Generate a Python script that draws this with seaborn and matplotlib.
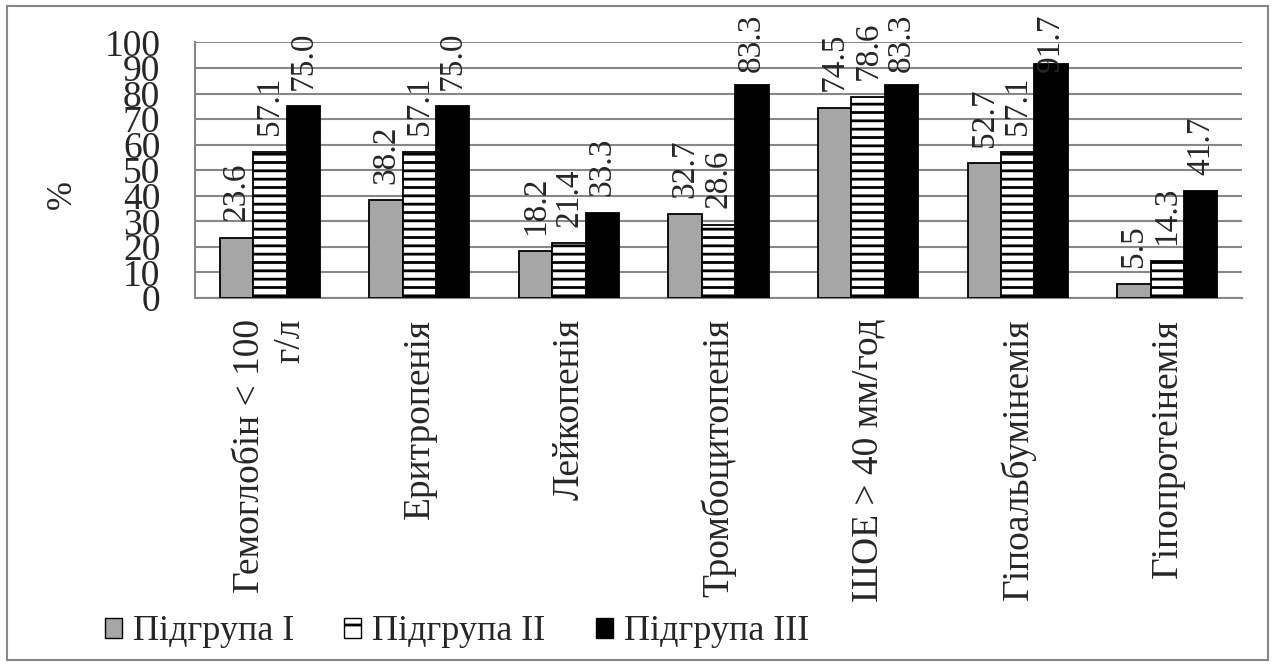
import numpy as np
import pandas as pd
import seaborn as sns
import matplotlib.pyplot as plt
from matplotlib.patches import Rectangle, Patch

categories = ['Гемоглобін < 100\nг/л', 'Еритропенія', 'Лейкопенія', 'Тромбоцитопенія',
              'ШОЕ > 40 мм/год', 'Гіпоальбумінемія', 'Гіпопротеінемія']
groups = ['Підгрупа I', 'Підгрупа II', 'Підгрупа III']
group1 = [23.6, 38.2, 18.2, 32.7, 74.5, 52.7, 5.5]
group2 = [57.1, 57.1, 21.4, 28.6, 78.6, 57.1, 14.3]
group3 = [75.0, 75.0, 33.3, 83.3, 83.3, 91.7, 41.7]
y_ticks = list(range(0, 101, 10))

data = pd.DataFrame({
    'category': categories * 3,
    'group': [g for g in groups for _ in categories],
    'value': group1 + group2 + group3,
})

sns.set_style('white')
plt.rcParams['font.family'] = ['Liberation Serif', 'DejaVu Serif']
plt.rcParams['hatch.linewidth'] = 2.0
grid_c = '#878787'

fig = plt.figure(figsize=(12.73, 6.66), dpi=100)
ax = fig.add_axes([0.1532, 0.5526, 0.8225, 0.3836])

sns.barplot(data=data, x='category', y='value', hue='group', hue_order=groups,
            palette=['#a6a6a6', 'white', 'black'], width=0.67,
            edgecolor='black', linewidth=1.3, legend=False, ax=ax, zorder=3)

for bar in ax.containers[1]:
    bar.set_hatch('--')

labels = []
for cont in ax.containers:
    labels += ax.bar_label(cont, fmt='%.1f', rotation=90, padding=12, fontsize=24)

ax.set_ylim(0, 100)
ax.set_xlim(-0.5, len(categories) - 0.5)
ax.set_yticks(y_ticks)
ax.set_yticklabels([str(t) for t in y_ticks], fontsize=27)
ax.yaxis.grid(True, color=grid_c, linewidth=1.5, zorder=0)
ax.set_axisbelow(True)

ax.set_xticks(range(len(categories)))
ax.set_xticklabels(categories, rotation=90, fontsize=27, ha='center', va='top',
                   multialignment='right')
ax.tick_params(axis='x', length=0, pad=15)
ax.set_xticks(np.arange(-0.5, len(categories)), minor=True)
ax.tick_params(axis='x', which='minor', length=10, width=1.3, color=grid_c, direction='out')
ax.tick_params(axis='y', length=11, width=1.3, color=grid_c, direction='out', pad=14)

for side in ['top', 'right']:
    ax.spines[side].set_visible(False)
for side in ['left', 'bottom']:
    ax.spines[side].set_color(grid_c)
    ax.spines[side].set_linewidth(1.5)

ax.set_xlabel('')
ax.set_ylabel('%', fontsize=25)
ax.yaxis.set_label_coords(-0.111, 0.406)

handles = [Patch(facecolor='#a6a6a6', edgecolor='black'),
           Patch(facecolor='white', edgecolor='black', hatch='-'),
           Patch(facecolor='black', edgecolor='black')]
fig.legend(handles, groups, loc='center', bbox_to_anchor=(457 / 1273, 1 - 632 / 666),
           ncol=3, frameon=False, fontsize=26, handlelength=0.47, handleheight=0.47,
           handletextpad=0.3, columnspacing=1.4)

fig.patches.append(Rectangle((7 / 1273, 6 / 666), 1261 / 1273, 654 / 666,
                             transform=fig.transFigure, fill=False,
                             edgecolor=grid_c, linewidth=1.5))

# keep labels inside the chart area, like Excel does
fig.canvas.draw()
top_limit = fig.bbox.height - 14
for t in labels:
    bb = t.get_window_extent()
    if bb.y1 > top_limit:
        dx, dy = t.xyann
        t.xyann = (dx, dy - (bb.y1 - top_limit) * 72 / fig.dpi)

fig.savefig('out.png', dpi=100)
